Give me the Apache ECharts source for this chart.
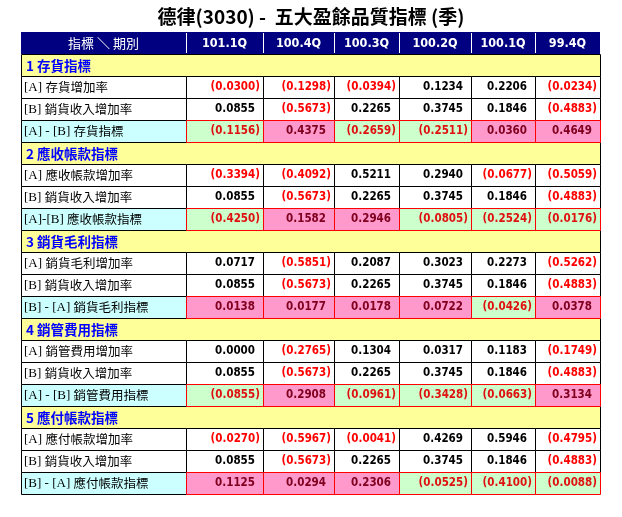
<!DOCTYPE html>
<html><head><meta charset="utf-8">
<script src="https://cdn.jsdelivr.net/npm/echarts@6/dist/echarts.min.js"></script>
<style>html,body{margin:0;padding:0;background:#fff}#c{width:622px;height:517px}</style>
</head><body><div id="c"></div>
<script>
// ---- data ----
const chartTitle = '德律(3030) -  五大盈餘品質指標 (季)';
const headerLabel = '指標 ＼ 期別';
const periods = ['101.1Q', '100.4Q', '100.3Q', '100.2Q', '100.1Q', '99.4Q'];
const sections = ['1 存貨指標', '2 應收帳款指標', '3 銷貨毛利指標', '4 銷管費用指標', '5 應付帳款指標'];
const rowLabels = [
  ['[A] 存貨增加率', '[B] 銷貨收入增加率', '[A] - [B] 存貨指標'],
  ['[A] 應收帳款增加率', '[B] 銷貨收入增加率', '[A]-[B] 應收帳款指標'],
  ['[A] 銷貨毛利增加率', '[B] 銷貨收入增加率', '[B] - [A] 銷貨毛利指標'],
  ['[A] 銷管費用增加率', '[B] 銷貨收入增加率', '[A] - [B] 銷管費用指標'],
  ['[A] 應付帳款增加率', '[B] 銷貨收入增加率', '[B] - [A] 應付帳款指標']
];
const salesGrowth = [0.0855, -0.5673, 0.2265, 0.3745, 0.1846, -0.4883];
const inventoryGrowth = [-0.0300, -0.1298, -0.0394, 0.1234, 0.2206, -0.0234];
const inventoryIndex = [-0.1156, 0.4375, -0.2659, -0.2511, 0.0360, 0.4649];
const receivableGrowth = [-0.3394, -0.4092, 0.5211, 0.2940, -0.0677, -0.5059];
const receivableIndex = [-0.4250, 0.1582, 0.2946, -0.0805, -0.2524, -0.0176];
const grossProfitGrowth = [0.0717, -0.5851, 0.2087, 0.3023, 0.2273, -0.5262];
const grossProfitIndex = [0.0138, 0.0177, 0.0178, 0.0722, -0.0426, 0.0378];
const sgaGrowth = [0.0000, -0.2765, 0.1304, 0.0317, 0.1183, -0.1749];
const sgaIndex = [-0.0855, 0.2908, -0.0961, -0.3428, -0.0663, 0.3134];
const payableGrowth = [-0.0270, -0.5967, -0.0041, 0.4269, 0.5946, -0.4795];
const payableIndex = [0.1125, 0.0294, 0.2306, -0.0525, -0.4100, -0.0088];

const sectionValues = [
  [inventoryGrowth, salesGrowth, inventoryIndex],
  [receivableGrowth, salesGrowth, receivableIndex],
  [grossProfitGrowth, salesGrowth, grossProfitIndex],
  [sgaGrowth, salesGrowth, sgaIndex],
  [payableGrowth, salesGrowth, payableIndex]
];

// ---- layout (not data) ----
const colW = [165, 77, 71, 65, 72, 64, 65];
const edges = [0];
colW.forEach(w => edges.push(edges[edges.length - 1] + w));
const nRows = 1 + sections.length * 4;

const valFont = 'bold 11.5px "DejaVu Sans Condensed", "DejaVu Sans", sans-serif';
const headFont = 'bold 12.5px "DejaVu Sans Condensed", "DejaVu Sans", sans-serif';
const cjk = '"Noto Sans CJK TC", sans-serif';

// ---- build cells ----
const cells = [];
cells.push({ kind: 'head', c0: 0, c1: 1, row: 0, text: headerLabel });
periods.forEach((p, i) => cells.push({ kind: 'head', c0: i + 1, c1: i + 2, row: 0, text: p }));
const valCells = [], idxCells = [];
sections.forEach((s, si) => {
  const r0 = 1 + si * 4;
  cells.push({ kind: 'sec', c0: 0, c1: 7, row: r0, text: s });
  rowLabels[si].forEach((lab, k) => {
    const isIdx = k === 2;
    cells.push({ kind: 'label', c0: 0, c1: 1, row: r0 + 1 + k, text: lab, idx: isIdx });
    sectionValues[si][k].forEach((v, ci) => {
      const cell = { kind: 'val', c0: ci + 1, c1: ci + 2, row: r0 + 1 + k, v: v, idx: isIdx };
      (isIdx ? idxCells : valCells).push(cell);
    });
  });
});
cells.push(...valCells, ...idxCells);

function fmt(v) {
  const s = Math.abs(v).toFixed(4);
  return v < 0 ? '(' + s + ')' : s;
}
function richLabel(t) {
  const m = t.match(/^(.*\])\s*(.*)$/);
  return '{a|' + m[1] + '} {b|' + m[2] + '}';
}

function renderItem(params, api) {
  const c = cells[params.dataIndex];
  const p0 = api.coord([edges[c.c0], c.row]);
  const p1 = api.coord([edges[c.c1], c.row + 1]);
  const x0 = Math.round(p0[0]), y0 = Math.round(p0[1]);
  const x1 = Math.round(p1[0]), y1 = Math.round(p1[1]);
  const cy = (y0 + y1) / 2 + 0.5;
  const ch = [];
  if (c.kind === 'head') {
    ch.push({ type: 'rect', shape: { x: x0, y: y0, width: x1 - x0, height: y1 - y0 }, style: { fill: '#000080' } });
    if (c.c0 > 0) ch.push({ type: 'line', shape: { x1: x0 + 0.5, y1: y0 + 1, x2: x0 + 0.5, y2: y1 - 1 }, style: { stroke: '#ffffff', lineWidth: 1 } });
    ch.push({ type: 'text', x: (x0 + x1) / 2, y: cy, style: { text: c.text, fill: '#ffffff', font: c.c0 === 0 ? '13px ' + cjk : headFont, align: 'center', verticalAlign: 'middle', textAlign: 'center', textVerticalAlign: 'middle' } });
  } else if (c.kind === 'sec') {
    ch.push({ type: 'rect', shape: { x: x0 + 0.5, y: y0 + 0.5, width: x1 - x0, height: y1 - y0 }, style: { fill: '#ffff99', stroke: '#000', lineWidth: 1 } });
    ch.push({ type: 'text', x: x0 + 5, y: cy, style: { text: c.text, fill: '#0000ff', font: 'bold 13.5px ' + cjk, align: 'left', verticalAlign: 'middle', textAlign: 'left', textVerticalAlign: 'middle' } });
  } else if (c.kind === 'label') {
    ch.push({ type: 'rect', shape: { x: x0 + 0.5, y: y0 + 0.5, width: x1 - x0, height: y1 - y0 }, style: { fill: c.idx ? '#ccffff' : '#ffffff', stroke: '#000', lineWidth: 1 } });
    ch.push({ type: 'text', x: x0 + 3, y: cy, style: { text: richLabel(c.text), align: 'left', verticalAlign: 'middle', textAlign: 'left', textVerticalAlign: 'middle',
      rich: { a: { font: '13px "Liberation Serif", serif', fill: '#000' }, b: { font: '12.5px ' + cjk, fill: '#000' } } } });
  } else {
    let fill = '#ffffff', stroke = '#000', color = c.v < 0 ? '#ff0000' : '#000000';
    if (c.idx) {
      fill = c.v < 0 ? '#ccffcc' : '#ff99cc';
      stroke = '#ff0000';
      color = c.v < 0 ? '#e01010' : '#800020';
    }
    ch.push({ type: 'rect', shape: { x: x0 + 0.5, y: y0 + 0.5, width: x1 - x0, height: y1 - y0 }, style: { fill: fill, stroke: stroke, lineWidth: 1 } });
    ch.push({ type: 'text', x: x1 - (c.v < 0 ? 3 : 8), y: cy, style: { text: fmt(c.v), fill: color, font: valFont, align: 'right', verticalAlign: 'middle', textAlign: 'right', textVerticalAlign: 'middle' } });
  }
  return { type: 'group', children: ch };
}

const chart = echarts.init(document.getElementById('c'), null, { renderer: 'canvas' });
chart.setOption({
  animation: false,
  backgroundColor: '#ffffff',
  title: { text: chartTitle, left: 'center', top: 2, textStyle: { fontSize: 19, fontWeight: 'bold', fontFamily: '"Noto Sans CJK TC", sans-serif', color: '#000' } },
  grid: { left: 21, top: 32, width: edges[edges.length - 1], height: nRows * 22 },
  xAxis: { type: 'value', min: 0, max: edges[edges.length - 1], show: false },
  yAxis: { type: 'value', min: 0, max: nRows, inverse: true, show: false },
  series: [{
    type: 'custom',
    renderItem: renderItem,
    clip: false,
    encode: { x: 0, y: 1 },
    data: cells.map(c => [edges[c.c0], c.row])
  }]
});
</script></body></html>
